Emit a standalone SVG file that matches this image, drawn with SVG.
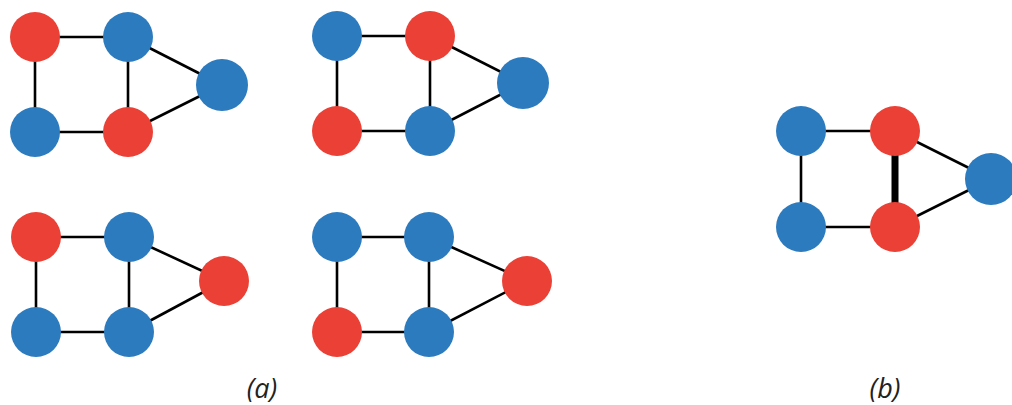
<svg xmlns="http://www.w3.org/2000/svg" width="1012" height="405" viewBox="0 0 1012 405">
  <style>
    .edge { stroke: #000; stroke-width: 2.6; fill: none; }
    .heavy { stroke: #000; stroke-width: 7; fill: none; }
    .red { fill: #EA4035; }
    .blue { fill: #2C7BBF; }
    .label { font-family: "Open Sans", "Liberation Sans", sans-serif; font-style: italic; font-size: 27px; fill: #222; text-anchor: middle; }
  </style>
  <rect width="1012" height="405" fill="#fff"/>

  <!-- connectors -->
  <g id="connectors">
    <!-- graph a1 -->
    <line class="edge" x1="35" y1="37" x2="128" y2="37"/>
    <line class="edge" x1="35" y1="37" x2="35" y2="132"/>
    <line class="edge" x1="35" y1="132" x2="128" y2="132"/>
    <line class="edge" x1="128" y1="37" x2="128" y2="132"/>
    <line class="edge" x1="128" y1="37" x2="222" y2="85"/>
    <line class="edge" x1="128" y1="132" x2="222" y2="85"/>
    <!-- graph a2 -->
    <line class="edge" x1="337" y1="36" x2="430" y2="36"/>
    <line class="edge" x1="337" y1="36" x2="337" y2="131"/>
    <line class="edge" x1="337" y1="131" x2="430" y2="131"/>
    <line class="edge" x1="430" y1="36" x2="430" y2="131"/>
    <line class="edge" x1="430" y1="36" x2="523" y2="83"/>
    <line class="edge" x1="430" y1="131" x2="523" y2="83"/>
    <!-- graph a3 -->
    <line class="edge" x1="36" y1="237" x2="129" y2="237"/>
    <line class="edge" x1="36" y1="237" x2="36" y2="332"/>
    <line class="edge" x1="36" y1="332" x2="129" y2="332"/>
    <line class="edge" x1="129" y1="237" x2="129" y2="332"/>
    <line class="edge" x1="129" y1="237" x2="224" y2="281"/>
    <line class="edge" x1="129" y1="332" x2="224" y2="281"/>
    <!-- graph a4 -->
    <line class="edge" x1="337" y1="237" x2="429" y2="237"/>
    <line class="edge" x1="337" y1="237" x2="337" y2="332"/>
    <line class="edge" x1="337" y1="332" x2="429" y2="332"/>
    <line class="edge" x1="429" y1="237" x2="429" y2="332"/>
    <line class="edge" x1="429" y1="237" x2="527" y2="281"/>
    <line class="edge" x1="429" y1="332" x2="527" y2="281"/>
    <!-- graph b -->
    <line class="edge" x1="801" y1="131" x2="895" y2="131"/>
    <line class="edge" x1="801" y1="131" x2="801" y2="227"/>
    <line class="edge" x1="801" y1="227" x2="895" y2="227"/>
    <line class="heavy" x1="895" y1="131" x2="895" y2="227"/>
    <line class="edge" x1="895" y1="131" x2="991" y2="179"/>
    <line class="edge" x1="895" y1="227" x2="991" y2="179"/>
  </g>

  <!-- graph a1 nodes -->
  <g id="a1-n1"><circle class="red" cx="35" cy="37" r="25"/></g>
  <g id="a1-n2"><circle class="blue" cx="128" cy="37" r="25"/></g>
  <g id="a1-n3"><circle class="blue" cx="222" cy="85" r="26"/></g>
  <g id="a1-n4"><circle class="blue" cx="35" cy="132" r="25"/></g>
  <g id="a1-n5"><circle class="red" cx="128" cy="132" r="25"/></g>

  <!-- graph a2 nodes -->
  <g id="a2-n1"><circle class="blue" cx="337" cy="36" r="25"/></g>
  <g id="a2-n2"><circle class="red" cx="430" cy="36" r="25"/></g>
  <g id="a2-n3"><circle class="blue" cx="523" cy="83" r="26"/></g>
  <g id="a2-n4"><circle class="red" cx="337" cy="131" r="25"/></g>
  <g id="a2-n5"><circle class="blue" cx="430" cy="131" r="25"/></g>

  <!-- graph a3 nodes -->
  <g id="a3-n1"><circle class="red" cx="36" cy="237" r="25"/></g>
  <g id="a3-n2"><circle class="blue" cx="129" cy="237" r="25"/></g>
  <g id="a3-n3"><circle class="red" cx="224" cy="281" r="25"/></g>
  <g id="a3-n4"><circle class="blue" cx="36" cy="332" r="25"/></g>
  <g id="a3-n5"><circle class="blue" cx="129" cy="332" r="25"/></g>

  <!-- graph a4 nodes -->
  <g id="a4-n1"><circle class="blue" cx="337" cy="237" r="25"/></g>
  <g id="a4-n2"><circle class="blue" cx="429" cy="237" r="25"/></g>
  <g id="a4-n3"><circle class="red" cx="527" cy="281" r="25"/></g>
  <g id="a4-n4"><circle class="red" cx="337" cy="332" r="25"/></g>
  <g id="a4-n5"><circle class="blue" cx="429" cy="332" r="25"/></g>

  <!-- graph b nodes -->
  <g id="b-n1"><circle class="blue" cx="801" cy="131" r="25"/></g>
  <g id="b-n2"><circle class="red" cx="895" cy="131" r="25"/></g>
  <g id="b-n3"><circle class="blue" cx="991" cy="179" r="26"/></g>
  <g id="b-n4"><circle class="blue" cx="801" cy="227" r="25"/></g>
  <g id="b-n5"><circle class="red" cx="895" cy="227" r="25"/></g>

  <!-- captions -->
  <g id="caption-a"><text class="label" x="262" y="398">(a)</text></g>
  <g id="caption-b"><text class="label" x="885" y="398">(b)</text></g>
</svg>
